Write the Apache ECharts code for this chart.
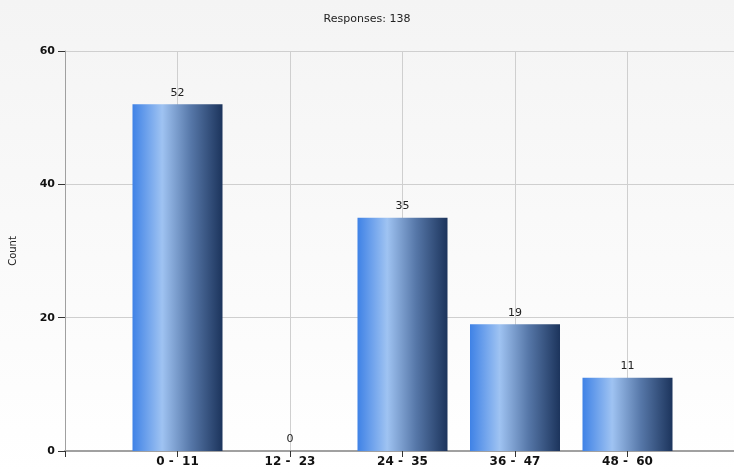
<!DOCTYPE html>
<html>
<head>
<meta charset="utf-8">
<script src="https://cdn.jsdelivr.net/npm/echarts@6/dist/echarts.min.js"></script>
<style>
    html, body { margin: 0; padding: 0; }
    #main { width: 734px; height: 474px; }
</style>
</head>
<body>
<div id="main"></div>
<script>
// categories padded with empty slots at both ends (the chart leaves a gap on each side)
var categories = ['', '0 -  11', '12 -  23', '24 -  35', '36 -  47', '48 -  60', ''];
var counts = [null, 52, 0, 35, 19, 11, null];
var yTicks = [0, 20, 40, 60];
var titleText = 'Responses: 138';

var chart = echarts.init(document.getElementById('main'));

var barColor = new echarts.graphic.LinearGradient(0, 0, 1, 0, [
    {offset: 0, color: '#3f82e6'},
    {offset: 0.33, color: '#9fc3f2'},
    {offset: 0.65, color: '#5677a8'},
    {offset: 1, color: '#1c345c'}
]);

var option = {
    backgroundColor: new echarts.graphic.LinearGradient(0, 0, 0, 1, [
        {offset: 0, color: '#f4f4f4'},
        {offset: 1, color: '#ffffff'}
    ]),
    animation: false,
    title: {
        text: titleText,
        left: 'center',
        top: 9,
        textStyle: {fontFamily: 'DejaVu Sans', fontSize: 11, fontWeight: 'normal', color: '#222'}
    },
    grid: {left: 65, right: -6, top: 51, bottom: 23, containLabel: false, outerBoundsMode: 'none'},
    xAxis: {
        type: 'category',
        data: categories,
        boundaryGap: false,
        axisLine: {lineStyle: {color: '#a0a0a0', width: 2}},
        axisTick: {show: true, length: 6, lineStyle: {color: '#333'}},
        axisLabel: {
            fontFamily: 'DejaVu Sans', fontSize: 12, fontWeight: 'bold', color: '#111',
            margin: 5, interval: 0
        },
        splitLine: {show: true, lineStyle: {color: '#cfcfcf', width: 1}}
    },
    yAxis: {
        type: 'value',
        min: yTicks[0],
        max: yTicks[yTicks.length - 1],
        interval: 20,
        name: 'Count',
        nameLocation: 'middle',
        nameGap: 47,
        nameTextStyle: {fontFamily: 'DejaVu Sans', fontSize: 10, color: '#222'},
        axisLine: {show: true, lineStyle: {color: '#a0a0a0', width: 1}},
        axisTick: {show: true, length: 7, lineStyle: {color: '#333'}},
        axisLabel: {fontFamily: 'DejaVu Sans', fontSize: 11, fontWeight: 'bold', color: '#111', margin: 10},
        splitLine: {show: true, lineStyle: {color: '#cfcfcf', width: 1}}
    },
    series: [{
        type: 'bar',
        data: counts,
        barWidth: 90,
        itemStyle: {color: barColor},
        label: {
            show: true,
            position: 'top',
            distance: 6,
            fontFamily: 'DejaVu Sans',
            fontSize: 11,
            color: '#222'
        }
    }]
};

chart.setOption(option);
</script>
</body>
</html>
